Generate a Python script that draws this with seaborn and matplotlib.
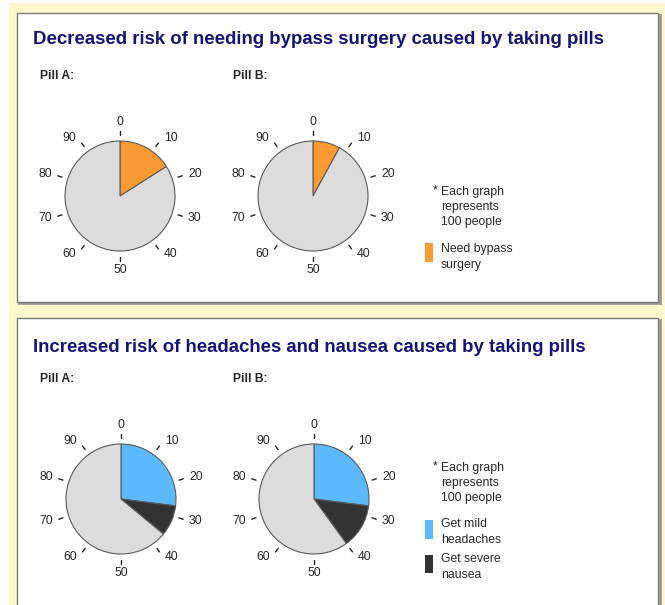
import numpy as np
import matplotlib
matplotlib.use("Agg")
import matplotlib.pyplot as plt
from matplotlib.patches import Rectangle
import seaborn as sns

# ---------------- data ----------------
dial_ticks = [0, 10, 20, 30, 40, 50, 60, 70, 80, 90]
total_people = 100

pills = ["Pill A:", "Pill B:"]
bypass_values = [16, 8]            # need bypass surgery (of 100)
headache_values = [27, 27]         # get mild headaches (of 100)
nausea_values = [9, 13]            # get severe nausea (of 100)

titles = ["Decreased risk of needing bypass surgery caused by taking pills",
          "Increased risk of headaches and nausea caused by taking pills"]
note_text = "Each graph\nrepresents\n100 people"
legend_top = ["Need bypass\nsurgery"]
legend_bottom = ["Get mild\nheadaches", "Get severe\nnausea"]

# ---------------- style ----------------
sns.set_theme(style="white")
plt.rcParams['font.family'] = ['Liberation Sans', 'DejaVu Sans']

W, H = 665, 605
fig = plt.figure(figsize=(W / 100, H / 100), dpi=100)
fig.patch.set_facecolor("white")

def fx(px):
    return px / W

def fy(py):
    return 1 - py / H

YELLOW = "#FDF9CD"
NAVY = "#14147A"
C_ORANGE = "#F99A33"
C_GREY = "#DCDCDC"
C_BLUE = "#5DB9FD"
C_DARK = "#333333"
TXT = "#262626"

# outer yellow background
fig.add_artist(Rectangle((fx(9), 0), fx(W) - fx(9), fy(3), transform=fig.transFigure,
                         facecolor=YELLOW, edgecolor="none", zorder=-3))
# panels
for top, bottom in [(13, 302), (318, 640)]:
    fig.add_artist(Rectangle((fx(18.5), fy(bottom + 1.5)), fx(659.5) - fx(18.5), fy(top + 1.5) - fy(bottom + 1.5),
                             transform=fig.transFigure, facecolor="none", edgecolor="#9A9A9A", lw=2.0, zorder=-2))
    fig.add_artist(Rectangle((fx(17), fy(bottom)), fx(658) - fx(17), fy(top) - fy(bottom),
                             transform=fig.transFigure, facecolor="white", edgecolor="#7A7A7A", lw=1.0, zorder=-1))

R_PX = 55
EXT = 1.7

def draw_pie(cx, cy, values, colors):
    size = 2 * EXT * R_PX
    ax = fig.add_axes([fx(cx - size / 2), fy(cy + size / 2), size / W, size / H])
    ax.patch.set_alpha(0)
    rest = total_people - sum(values)
    ax.pie(list(values) + [rest], colors=list(colors) + [C_GREY], startangle=90, counterclock=False,
           radius=1.0, wedgeprops=dict(edgecolor="#5A5A5A", linewidth=0.8))
    for t in dial_ticks:
        ang = np.deg2rad(t / total_people * 360)
        sx, sy = np.sin(ang), np.cos(ang)
        ax.plot([1.11 * sx, 1.19 * sx], [1.11 * sy, 1.19 * sy], color="#222222", lw=1.0)
        side = 0.0 if abs(sx) < 1e-6 else np.sign(sx)
        lx = 1.2 * sx + side * 0.22
        ly = 1.31 * sy if abs(sx) > 1e-6 else 1.34 * sy
        ax.text(lx, ly, str(t), ha="center", va="center", fontsize=8.8, color=TXT)
    ax.set_xlim(-EXT, EXT)
    ax.set_ylim(-EXT, EXT)
    ax.set_aspect("equal")
    ax.axis("off")
    return ax

def fit_text(x, y, s, width_px, **kw):
    t = fig.text(fx(x), fy(y), s, **kw)
    fig.canvas.draw()
    r = fig.canvas.get_renderer()
    w = t.get_window_extent(r).width
    t.set_fontsize(t.get_fontsize() * width_px / w)
    return t

LEG_FS = 8.8
LS = 1.38

# ---------- top panel ----------
fit_text(33, 39, titles[0], 575, fontsize=14, fontweight="bold", color=NAVY, va="center")
fig.text(fx(40), fy(76), pills[0], fontsize=8.7, fontweight="bold", color=TXT, va="center")
fig.text(fx(233), fy(76), pills[1], fontsize=8.7, fontweight="bold", color=TXT, va="center")
draw_pie(120, 196, [bypass_values[0]], [C_ORANGE])
draw_pie(313, 196, [bypass_values[1]], [C_ORANGE])

fig.text(fx(433), fy(190), "*", fontsize=LEG_FS, color=TXT, va="center")
fig.text(fx(441), fy(207), note_text, fontsize=LEG_FS, color=TXT, va="center", linespacing=LS)
fig.add_artist(Rectangle((fx(425), fy(262)), fx(433) - fx(425), fy(243) - fy(262), transform=fig.transFigure,
                         facecolor=C_ORANGE, edgecolor="none", zorder=1))
fig.text(fx(441), fy(257), legend_top[0], fontsize=LEG_FS, color=TXT, va="center", linespacing=LS)

# ---------- bottom panel ----------
fit_text(33, 347, titles[1], 557, fontsize=14, fontweight="bold", color=NAVY, va="center")
fig.text(fx(40), fy(379), pills[0], fontsize=8.7, fontweight="bold", color=TXT, va="center")
fig.text(fx(233), fy(379), pills[1], fontsize=8.7, fontweight="bold", color=TXT, va="center")
draw_pie(121, 499, [headache_values[0], nausea_values[0]], [C_BLUE, C_DARK])
draw_pie(314, 499, [headache_values[1], nausea_values[1]], [C_BLUE, C_DARK])

fig.text(fx(433), fy(466), "*", fontsize=LEG_FS, color=TXT, va="center")
fig.text(fx(441), fy(483), note_text, fontsize=LEG_FS, color=TXT, va="center", linespacing=LS)
fig.add_artist(Rectangle((fx(425), fy(539)), fx(433) - fx(425), fy(520) - fy(539), transform=fig.transFigure,
                         facecolor=C_BLUE, edgecolor="none", zorder=1))
fig.text(fx(441), fy(532), legend_bottom[0], fontsize=LEG_FS, color=TXT, va="center", linespacing=LS)
fig.add_artist(Rectangle((fx(425), fy(573)), fx(433) - fx(425), fy(555) - fy(573), transform=fig.transFigure,
                         facecolor=C_DARK, edgecolor="none", zorder=1))
fig.text(fx(441), fy(567), legend_bottom[1], fontsize=LEG_FS, color=TXT, va="center", linespacing=LS)

fig.savefig("out.png", dpi=100, facecolor=fig.get_facecolor())
